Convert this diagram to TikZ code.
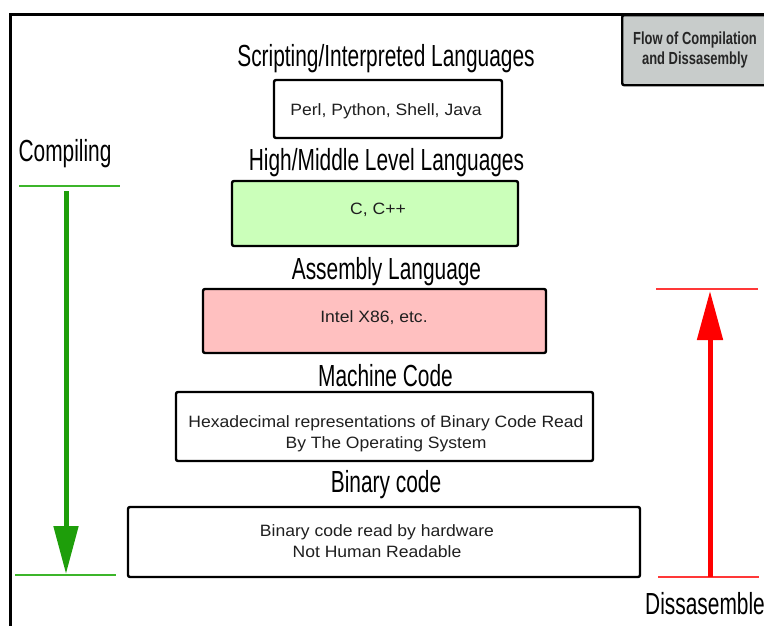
\documentclass[tikz,border=0pt]{standalone}
\usepackage{fontspec}
\setmainfont{Liberation Sans}
\newfontfamily\headfont[FakeStretch=0.685]{Liberation Sans}
\newfontfamily\tagfont[FakeStretch=0.74]{Liberation Sans Bold}
\newfontfamily\boxfont[FakeStretch=1.07]{Liberation Sans}
\usetikzlibrary{arrows.meta}
\definecolor{hlgreen}{HTML}{CBFFBA}
\definecolor{hlpink}{HTML}{FFC0C0}
\definecolor{taggray}{HTML}{C8CCCB}
\definecolor{arrgreen}{HTML}{1E9E0A}
\definecolor{linegreen}{HTML}{3CB52A}
\definecolor{arrred}{HTML}{FF0000}
\definecolor{linered}{HTML}{FF3838}
\tikzset{
  layerbox/.style={draw=black, line width=2.4pt, rounded corners=2pt, inner sep=0pt},
  heading/.style={font=\headfont\fontsize{30.5}{32}\selectfont, anchor=base, inner sep=0pt},
  boxtext/.style={font=\boxfont\fontsize{16.4}{20.5}\selectfont, anchor=base, align=center, inner sep=0pt, text=black!88},
  flowarrow/.style={line width=5pt},
  limit/.style={line width=2.4pt},
}
\begin{document}
\begin{tikzpicture}[x=1pt, y=-1pt]
\useasboundingbox (0,0) rectangle (764,625);

% outer frame
\draw[line width=3pt] (10,640) -- (10,14) -- (780,14);

% caption tag at the top right
\node[draw=black, line width=2.4pt, rounded corners=2pt, fill=taggray,
      minimum width=160pt, minimum height=70pt, anchor=north west] (tag) at (621,14) {};
\node[font=\tagfont\fontsize{17.5}{20}\selectfont, align=center, text=black!85] (tagtext) at (695,50)
  {Flow of Compilation\\and Dissasembly};

% layers (multi-line labels are placed by the baseline of their last line)
\node[heading] (hscript) at (386,66) {Scripting/Interpreted Languages};
\node[layerbox, fill=white, minimum width=228pt, minimum height=58pt] (script) at (388,109) {};
\node[boxtext] (tscript) at (386,115) {Perl, Python, Shell, Java};

\node[heading] (hhigh) at (386.5,170) {High/Middle Level Languages};
\node[layerbox, fill=hlgreen, minimum width=286pt, minimum height=65pt] (high) at (375,213.5) {};
\node[boxtext] (thigh) at (378,214) {C, C++};

\node[heading] (hasm) at (386.5,279) {Assembly Language};
\node[layerbox, fill=hlpink, minimum width=343pt, minimum height=64pt] (asm) at (374.5,321) {};
\node[boxtext] (tasm) at (374,322) {Intel X86, etc.};

\node[heading] (hmach) at (385.5,386) {Machine Code};
\node[layerbox, fill=white, minimum width=417pt, minimum height=69pt] (mach) at (384.5,426.5) {};
\node[boxtext] (tmach) at (386,448) {Hexadecimal representations of Binary Code Read\\By The Operating System};

\node[heading] (hbin) at (386,492) {Binary code};
\node[layerbox, fill=white, minimum width=512pt, minimum height=70pt] (bin) at (384,542) {};
\node[boxtext] (tbin) at (377,557) {Binary code read by hardware\\Not Human Readable};

% compiling direction
\node[heading] (hcomp) at (65,161) {Compiling};
\coordinate (gstart) at (66,191);
\coordinate (gend) at (66,574);
\draw[limit, linegreen] (19,186) -- (120,186);
\draw[limit, linegreen] (15,575) -- (116,575);
\draw[flowarrow, arrgreen, -{Triangle[width=24pt,length=48pt]}] (gstart) -- (gend);

% disassembling direction
\node[heading] (hdis) at (705,614) {Dissasemble};
\coordinate (rstart) at (710,577);
\coordinate (rend) at (710,291);
\draw[limit, linered] (656,289) -- (758,289);
\draw[limit, linered] (658,577) -- (759,577);
\draw[flowarrow, arrred, -{Triangle[width=25pt,length=49pt]}] (rstart) -- (rend);
\end{tikzpicture}
\end{document}
